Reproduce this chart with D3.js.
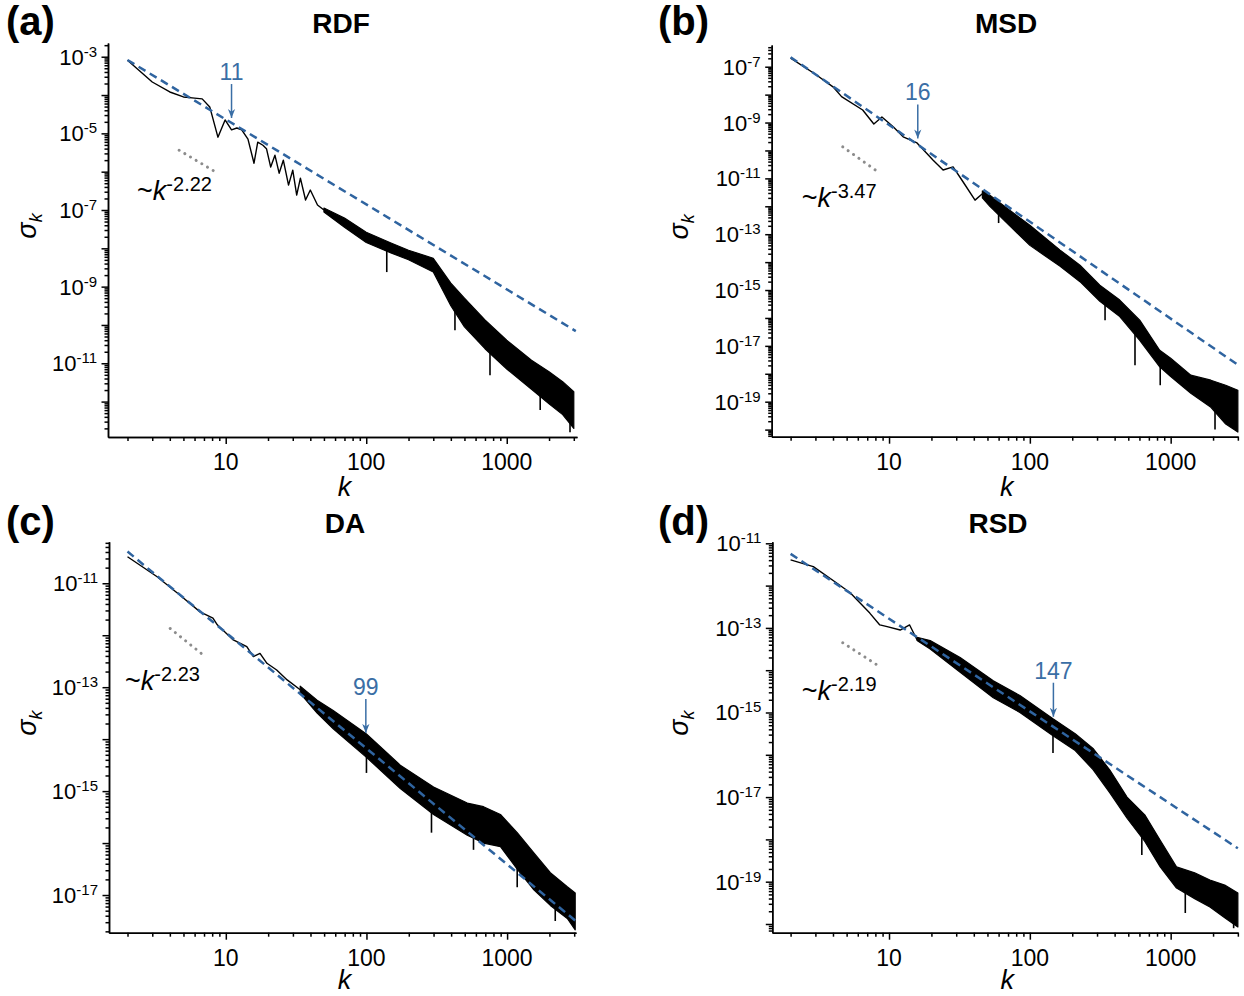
<!DOCTYPE html>
<html>
<head>
<meta charset="utf-8">
<script src="https://d3js.org/d3.v7.min.js"></script>
<style>
  body { margin: 0; background: #fff; }
  svg { font-family: "Liberation Sans", Arial, sans-serif; }
  .trace { fill: none; stroke: #000; stroke-width: 1.4; stroke-linejoin: round; }
  .band { fill: #000; stroke: #000; stroke-width: 1.2; stroke-linejoin: round; }
  .spike { stroke: #000; stroke-width: 1.6; }
  .fit { fill: none; stroke: #2f64a0; stroke-width: 2.5; stroke-dasharray: 8 5; }
  .guide { stroke: #8c8c8c; stroke-width: 3; stroke-dasharray: 0.1 6.5; stroke-linecap: round; }
  .axis path, .axis line { stroke: #000; stroke-width: 1.5; }
  .axis text { display: none; }
</style>
</head>
<body>
<svg id="chart" width="1244" height="996"></svg>
<script>
// all sigma values are stored as log10(sigma_k)

// (a) RDF
const rdfTraceK   = [2, 3, 4, 5, 6, 6.8, 7.7, 8.8, 9.9, 11, 12, 13, 14.4, 15.9, 16.9, 18.4, 19.5, 20.9, 22.4, 24, 25.7, 28, 30, 32, 34, 37, 40, 45, 50];
const rdfTraceLog = [-3.09, -3.66, -3.92, -4.05, -4.08, -4.10, -4.31, -5.10, -4.65, -4.91, -4.86, -4.91, -5.15, -5.78, -5.23, -5.31, -5.40, -5.88, -5.57, -6.04, -5.70, -6.35, -5.96, -6.61, -6.17, -6.74, -6.48, -6.87, -7.0];
const rdfBandK  = [50, 70, 100, 150, 200, 300, 400, 500, 700, 1000, 1500, 2000, 2500, 3000];
const rdfBandHi = [-6.95, -7.21, -7.58, -7.86, -8.05, -8.26, -8.91, -9.30, -9.87, -10.40, -10.92, -11.22, -11.48, -11.74];
const rdfBandLo = [-7.05, -7.45, -7.85, -8.12, -8.30, -8.62, -9.50, -10.05, -10.62, -11.15, -11.68, -12.06, -12.34, -12.70];
// downward spikes: [k, from, to]
const rdfSpikes = [[140, -7.9, -8.62], [428, -9.1, -10.14], [760, -10.3, -11.31], [1730, -11.2, -12.22], [2820, -12.0, -12.8]];
const rdfFitK = [2, 3100], rdfFitLog = [-3.086, -10.16];
const rdfGuideK = [4.66, 8.67], rdfGuideLog = [-5.44, -6.03];

// (b) MSD
const msdTraceK   = [2, 3, 4, 4.6, 6.5, 7.8, 8.9, 10.7, 12.6, 15.8, 18.5, 20.5, 24.2, 28.5, 33.6, 40.8, 46];
const msdTraceLog = [-6.69, -7.27, -7.72, -8.07, -8.55, -9.05, -8.80, -9.15, -9.51, -9.73, -10.10, -10.34, -10.70, -10.59, -11.13, -11.78, -11.55];
const msdBandK  = [46, 52, 72, 100, 164, 227, 314, 435, 603, 836, 1000, 1390, 1930, 2460, 3000];
const msdBandHi = [-11.45, -11.6, -12.14, -12.68, -13.57, -14.11, -14.83, -15.36, -16.08, -17.16, -17.44, -18.05, -18.23, -18.41, -18.59];
const msdBandLo = [-11.7, -12.0, -12.7, -13.4, -14.15, -14.7, -15.4, -15.95, -16.8, -17.75, -18.1, -18.7, -19.2, -19.8, -20.09];
const msdSpikes = [[60, -12.0, -12.6], [342, -15.0, -16.08], [558, -16.5, -17.69], [843, -17.3, -18.41], [2065, -18.8, -20.0]];
const msdFitK = [2, 3000], msdFitLog = [-6.66, -17.68];
const msdGuideK = [4.69, 8.53], msdGuideLog = [-9.87, -10.80];

// (c) DA
const daTraceK   = [2, 3.23, 4.73, 6.56, 8.1, 8.7, 11.3, 14.1, 15.7, 17.5, 19.6, 23, 27.3, 33.8];
const daTraceLog = [-10.49, -10.87, -11.23, -11.55, -11.67, -11.80, -12.09, -12.22, -12.41, -12.35, -12.54, -12.67, -12.86, -13.05];
const daBandK  = [33.8, 44.6, 58, 100, 174, 300, 521, 680, 897, 1180, 1550, 2030, 2680, 3050];
const daBandHi = [-12.98, -13.25, -13.45, -13.90, -14.50, -14.92, -15.23, -15.30, -15.45, -15.80, -16.19, -16.57, -16.84, -16.96];
const daBandLo = [-13.12, -13.50, -13.80, -14.35, -14.95, -15.45, -15.85, -16.0, -16.07, -16.5, -16.9, -17.2, -17.45, -17.67];
const daSpikes = [[100, -14.0, -14.65], [290, -15.2, -15.80], [577, -15.6, -16.13], [1180, -16.0, -16.85], [2200, -16.8, -17.5]];
const daFitK = [2, 3050], daFitLog = [-10.39, -17.49];
const daGuideK = [4.02, 7.13], daGuideLog = [-11.87, -12.41];

// (d) RSD
const rsdTraceK   = [2, 2.9, 4.3, 5.3, 7.3, 8.6, 9.7, 12, 14, 15.8];
const rsdTraceLog = [-11.39, -11.55, -11.95, -12.17, -12.65, -12.93, -12.97, -13.05, -12.93, -13.28];
const rsdBandK  = [15.8, 19.6, 32, 55, 85, 146, 210, 281, 370, 490, 655, 843, 1100, 1480, 1900, 2420, 3000];
const rsdBandHi = [-13.22, -13.30, -13.70, -14.25, -14.60, -15.15, -15.50, -15.85, -16.36, -17.00, -17.42, -18.02, -18.65, -18.79, -18.96, -19.08, -19.27];
const rsdBandLo = [-13.30, -13.50, -14.05, -14.65, -15.0, -15.55, -15.9, -16.35, -16.9, -17.5, -18.05, -18.65, -19.15, -19.4, -19.6, -19.85, -20.07];
const rsdSpikes = [[146, -15.3, -15.96], [624, -17.6, -18.37], [1270, -18.9, -19.74], [2800, -19.3, -20.1]];
const rsdFitK = [2, 3000], rsdFitLog = [-11.25, -18.21];
const rsdGuideK = [4.69, 8.63], rsdGuideLog = [-13.35, -13.92];

// arrows: k of the crossover, log10 sigma at arrow tip
const arrowK   = [11, 16, 99, 147];
const arrowLog = [-4.60, -9.57, -13.88, -15.10];
const slopeText = ['-2.22', '-3.47', '-2.23', '-2.19'];
const slopeAtK = [2.34, 2.4, 1.92, 2.4];
const slopeAtLog = [-6.74, -12.02, -13.05, -14.70];

const titles = ['RDF', 'MSD', 'DA', 'RSD'];
const letters = ['(a)', '(b)', '(c)', '(d)'];
const xTickLabels = [10, 100, 1000];
const yLabelExp = [[-3, -5, -7, -9, -11], [-7, -9, -11, -13, -15, -17, -19], [-11, -13, -15, -17], [-11, -13, -15, -17, -19]];

// layout of the four panels (pixel boxes and axis ranges)
const layout = [
  { x0: 108,   x1: 577,  y0: 43,    y1: 437,   kDom: [1.453, 3162], logDom: [-12.924, -2.642], titleX: 341, lx: 6,   top: 0 },
  { x0: 771.7, x1: 1238, y0: 45,    y1: 436.7, kDom: [1.468, 3007], logDom: [-20.254, -6.222], titleX: 1006, lx: 658, top: 0 },
  { x0: 109,   x1: 576,  y0: 541.7, y1: 932.7, kDom: [1.477, 3090], logDom: [-17.725, -10.2],  titleX: 345, lx: 6,   top: 500 },
  { x0: 772.3, x1: 1238, y0: 541.7, y1: 932.7, kDom: [1.483, 3007], logDom: [-20.206, -10.962], titleX: 998, lx: 658, top: 500 }
];
const series = [
  [rdfTraceK, rdfTraceLog, rdfBandK, rdfBandHi, rdfBandLo, rdfFitK, rdfFitLog, rdfGuideK, rdfGuideLog, rdfSpikes],
  [msdTraceK, msdTraceLog, msdBandK, msdBandHi, msdBandLo, msdFitK, msdFitLog, msdGuideK, msdGuideLog, msdSpikes],
  [daTraceK, daTraceLog, daBandK, daBandHi, daBandLo, daFitK, daFitLog, daGuideK, daGuideLog, daSpikes],
  [rsdTraceK, rsdTraceLog, rsdBandK, rsdBandHi, rsdBandLo, rsdFitK, rsdFitLog, rsdGuideK, rsdGuideLog, rsdSpikes]
];

const svg = d3.select('#chart');
const blue = '#3a6ea5';

svg.append('defs').append('marker')
    .attr('id', 'head')
    .attr('viewBox', '0 0 10 10')
    .attr('refX', 10).attr('refY', 5)
    .attr('markerWidth', 9).attr('markerHeight', 9)
    .attr('markerUnits', 'userSpaceOnUse')
    .attr('orient', 'auto')
  .append('path')
    .attr('d', 'M0,1 L10,5 L0,9 L3,5 Z')
    .attr('fill', blue);

layout.forEach((p, i) => {
    const [tK, tL, bK, bHi, bLo, fK, fL, gK, gL, spikes] = series[i];
    const sigDom = p.logDom.map(v => Math.pow(10, v));
    const x = d3.scaleLog().domain(p.kDom).range([p.x0, p.x1]);
    const y = d3.scaleLog().domain(sigDom).range([p.y1, p.y0]);
    const ys = v => y(Math.pow(10, v));
    const g = svg.append('g');

    // ticks
    const majY = [], minY = [];
    for (let e = Math.floor(p.logDom[0]); e <= Math.ceil(p.logDom[1]); e++) {
        for (let m = 1; m < 10; m++) {
            const v = m * Math.pow(10, e);
            if (v >= sigDom[0] && v <= sigDom[1]) (m === 1 ? majY : minY).push(v);
        }
    }
    const majX = [], minX = [];
    for (let e = 0; e <= 3; e++) {
        for (let m = 1; m < 10; m++) {
            const v = m * Math.pow(10, e);
            if (v >= p.kDom[0] && v <= p.kDom[1]) (m === 1 ? majX : minX).push(v);
        }
    }

    g.append('g').attr('class', 'axis').attr('transform', `translate(${p.x0},0)`)
        .call(d3.axisLeft(y).tickValues(minY).tickSize(3.5).tickSizeOuter(0).tickFormat(''));
    g.append('g').attr('class', 'axis').attr('transform', `translate(${p.x0},0)`)
        .call(d3.axisLeft(y).tickValues(majY).tickSize(6.5).tickSizeOuter(0).tickFormat(''));
    g.append('g').attr('class', 'axis').attr('transform', `translate(0,${p.y1})`)
        .call(d3.axisBottom(x).tickValues(minX).tickSize(4).tickSizeOuter(0).tickFormat(''));
    g.append('g').attr('class', 'axis').attr('transform', `translate(0,${p.y1})`)
        .call(d3.axisBottom(x).tickValues(majX).tickSize(7).tickSizeOuter(0).tickFormat(''));

    // y tick labels 10^e
    yLabelExp[i].forEach(e => {
        const t = g.append('text')
            .attr('x', p.x0 - 11).attr('y', ys(e) + 8)
            .attr('text-anchor', 'end').attr('font-size', 22)
            .text('10');
        t.append('tspan').attr('dy', -8).attr('font-size', 15).text(e);
    });
    xTickLabels.forEach(v => {
        g.append('text')
            .attr('x', x(v)).attr('y', p.y1 + 33)
            .attr('text-anchor', 'middle').attr('font-size', 23)
            .text(v);
    });

    // axis titles
    g.append('text')
        .attr('x', (p.x0 + p.x1) / 2 + 2).attr('y', Math.min(p.y1 + 59, 989))
        .attr('text-anchor', 'middle').attr('font-size', 27).attr('font-style', 'italic')
        .text('k');
    const yt = g.append('text')
        .attr('transform', `translate(${p.lx + 30},${(p.y0 + p.y1) / 2 - 14}) rotate(-90)`)
        .attr('text-anchor', 'middle').attr('font-size', 27).attr('font-style', 'italic')
        .text('σ');
    yt.append('tspan').attr('dy', 6).attr('font-size', 18).text('k');

    // panel title and letter
    g.append('text')
        .attr('x', p.titleX).attr('y', p.top + 33)
        .attr('text-anchor', 'middle').attr('font-size', 28).attr('font-weight', 'bold')
        .text(titles[i]);
    g.append('text')
        .attr('x', p.lx).attr('y', p.top + 35)
        .attr('font-size', 40).attr('font-weight', 'bold')
        .text(letters[i]);

    // data
    const band = d3.area()
        .x(d => x(d[0])).y0(d => ys(d[2])).y1(d => ys(d[1]));
    g.append('path').attr('class', 'band')
        .attr('d', band(d3.zip(bK, bHi, bLo)));

    g.selectAll(null).data(spikes).join('line').attr('class', 'spike')
        .attr('x1', d => x(d[0])).attr('x2', d => x(d[0]))
        .attr('y1', d => ys(d[1])).attr('y2', d => ys(d[2]));

    const line = d3.line().x(d => x(d[0])).y(d => ys(d[1]));
    g.append('path').attr('class', 'trace')
        .attr('d', line(d3.zip(tK, tL)));

    g.append('path').attr('class', 'fit')
        .attr('d', line(d3.zip(fK, fL)));

    g.append('line').attr('class', 'guide')
        .attr('x1', x(gK[0])).attr('y1', ys(gL[0]))
        .attr('x2', x(gK[1])).attr('y2', ys(gL[1]));

    // slope label ~k^-n
    const s = g.append('text')
        .attr('x', x(slopeAtK[i])).attr('y', ys(slopeAtLog[i]))
        .attr('font-size', 27).text('~');
    s.append('tspan').attr('font-style', 'italic').text('k');
    s.append('tspan').attr('dy', -9).attr('font-size', 20).text(slopeText[i]);

    // crossover arrow
    const ax = x(arrowK[i]), ay = ys(arrowLog[i]);
    g.append('line')
        .attr('x1', ax).attr('y1', ay - 34).attr('x2', ax).attr('y2', ay)
        .attr('stroke', blue).attr('stroke-width', 1.5)
        .attr('marker-end', 'url(#head)');
    g.append('text')
        .attr('x', ax).attr('y', ay - 38)
        .attr('text-anchor', 'middle').attr('font-size', 23).attr('fill', blue)
        .text(arrowK[i]);
});
</script>
</body>
</html>
